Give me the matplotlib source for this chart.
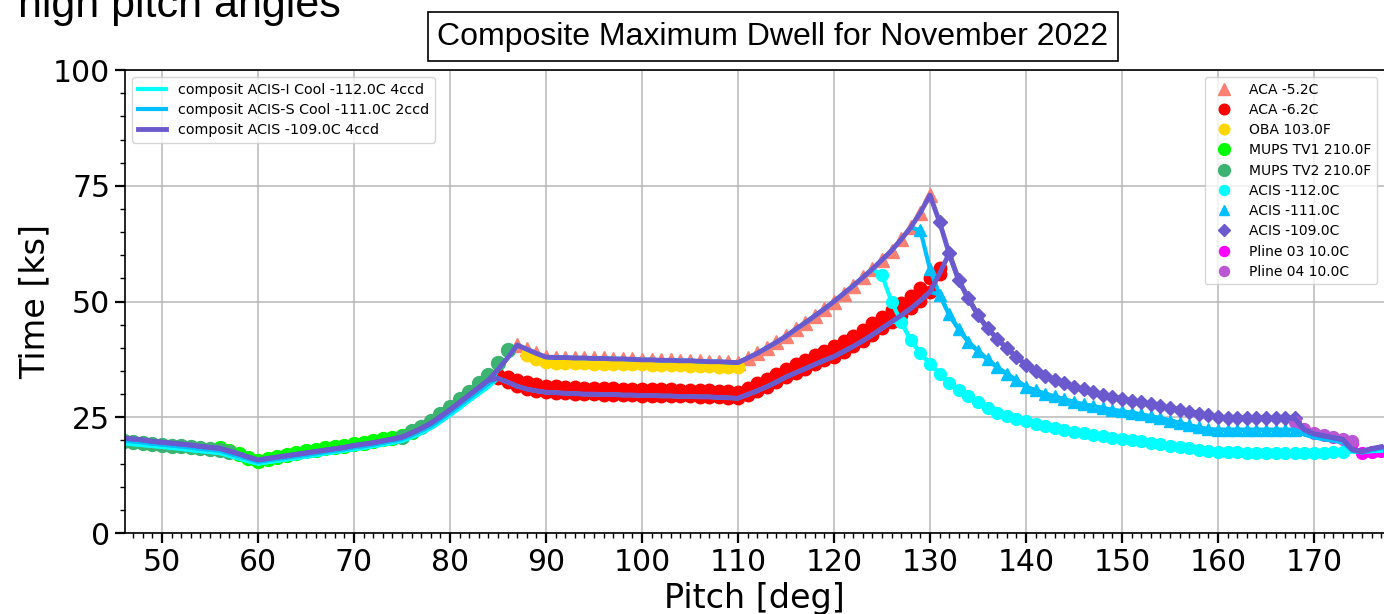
import numpy as np
import matplotlib
matplotlib.use("Agg")
import matplotlib.pyplot as plt
from matplotlib.ticker import MultipleLocator

# ---------------- data ----------------
# composite curves before the ACA split, pitch 46..84
left_109 = [20.5, 20.3, 20.1, 19.8, 19.6, 19.4, 19.2, 19.0, 18.7, 18.5, 18.3,
            17.7, 17.1, 16.4, 15.8,
            16.1, 16.4, 16.7, 17.0, 17.3, 17.6, 17.9, 18.2, 18.5, 18.9,
            19.2, 19.5, 19.9, 20.3, 20.7,
            21.6, 22.6, 23.7, 25.1, 26.6, 28.2, 29.8, 31.4, 33.0]
left_111 = [20.0, 19.8, 19.6, 19.3, 19.1, 18.9, 18.7, 18.5, 18.2, 18.0, 17.8,
            17.2, 16.6, 16.0, 15.4,
            15.7, 16.0, 16.3, 16.6, 16.9, 17.2, 17.5, 17.8, 18.1, 18.5,
            18.8, 19.1, 19.5, 19.9, 20.3,
            21.1, 22.1, 23.1, 24.5, 26.0, 27.6, 29.1, 30.7, 32.3]
left_112 = [19.4, 19.2, 19.0, 18.8, 18.6, 18.4, 18.2, 17.9, 17.7, 17.5, 17.3,
            16.7, 16.1, 15.5, 15.0,
            15.3, 15.6, 15.9, 16.2, 16.5, 16.8, 17.2, 17.5, 17.8, 18.1,
            18.4, 18.8, 19.1, 19.5, 19.9,
            20.7, 21.6, 22.7, 24.0, 25.5, 27.0, 28.6, 30.1, 31.6]

# upper (ACA -5.2C) branch, pitch 85..130
seg_up = [35.3, 37.8, 40.6,
          39.7, 38.8, 38.0, 37.9, 37.9, 37.8, 37.8, 37.7, 37.7, 37.6, 37.6,
          37.5, 37.4, 37.4, 37.3, 37.3, 37.2, 37.2, 37.1, 37.0, 37.0, 36.9, 36.8,
          37.8, 38.8, 40.0, 41.2, 42.5, 44.0, 45.4, 46.9, 48.4, 50.0,
          51.7, 53.4, 55.2, 57.0, 59.0, 61.0, 63.4, 66.0, 69.2, 73.0]
# lower (ACA -6.2C) branch, pitch 85..131
seg_lo = [33.4, 32.6, 31.7, 31.1, 30.7, 30.4,
          30.3, 30.2, 30.1, 30.0, 30.0, 29.9, 29.9, 29.8, 29.8, 29.7,
          29.7, 29.6, 29.6, 29.5, 29.5, 29.4, 29.4, 29.3, 29.2, 29.1,
          29.9, 30.7, 31.6, 32.6, 33.7, 34.6, 35.5, 36.4, 37.3, 38.1,
          39.2, 40.3, 41.5, 42.8, 44.2, 45.6, 47.0, 48.5, 50.2, 52.1, 56.0]
# second row of ACA -6.2C points, pitch 85..131
red_hi = [34.2, 33.7, 33.1, 32.6, 32.1, 31.8,
          31.7, 31.6, 31.5, 31.4, 31.4, 31.3, 31.3, 31.2, 31.2, 31.1,
          31.1, 31.0, 31.0, 30.9, 30.9, 30.8, 30.8, 30.7, 30.6, 30.5,
          31.4, 32.3, 33.3, 34.3, 35.4, 36.4, 37.4, 38.4, 39.4, 40.3,
          41.4, 42.6, 43.9, 45.3, 46.7, 48.2, 49.7, 51.3, 53.0, 55.0, 57.2]
# OBA 103.0F, pitch 88..110
oba = [38.5, 37.6, 36.9, 36.8, 36.8, 36.7, 36.7, 36.6, 36.6, 36.5, 36.5, 36.4,
       36.4, 36.3, 36.3, 36.2, 36.2, 36.1, 36.0, 36.0, 35.9, 35.9, 35.8]
# MUPS TV2, pitch 46..86 (gap 58..74)
nan = np.nan
mups2 = [19.9, 19.7, 19.5, 19.3, 19.1, 18.9, 18.7, 18.5, 18.3, 18.1, 17.9, 17.4] \
    + [nan] * 17 + \
    [20.8, 22.0, 23.0, 24.2, 25.7, 27.3, 28.9, 30.5, 32.3, 34.1, 36.7, 39.6]
# MUPS TV1, pitch 56..76
mups1 = [18.3, 17.8, 17.1, 16.3, 15.5,
         15.9, 16.5, 16.9, 17.3, 17.7, 18.0, 18.3, 18.6, 18.9, 19.2, 19.5,
         19.8, 20.2, 20.6, 21.0, 21.9]
# ACIS -112.0C, pitch 125..177
acis112 = [55.7, 50.0, 45.6, 41.7, 38.8, 36.6, 34.4, 32.5, 30.9, 29.5, 28.2, 27.0,
           26.0, 25.2, 24.6, 24.1,
           23.6, 23.1, 22.6, 22.2, 21.8, 21.5, 21.2, 20.9, 20.6, 20.4, 20.1, 19.8,
           19.5, 19.2, 18.9, 18.6, 18.3, 18.0, 17.8, 17.6,
           17.5, 17.4, 17.3, 17.3, 17.2, 17.2, 17.2, 17.2, 17.2, 17.2, 17.3, 17.4,
           17.5, 17.6, 17.6, 17.7, 17.8]
# ACIS -111.0C, pitch 129..168
acis111 = [65.4, 57.0, 51.5, 47.2, 44.0, 41.3, 39.3, 37.5, 35.8, 34.4, 33.0, 31.6,
           30.8, 30.1, 29.5, 28.9, 28.3, 27.8, 27.4, 27.0, 26.6, 26.3, 26.0, 25.6,
           25.2, 24.8, 24.3, 23.8, 23.3, 22.8, 22.4, 22.3,
           22.3, 22.3, 22.3, 22.3, 22.3, 22.3, 22.3, 22.3]
tail111 = [21.3, 20.7, 20.3, 20.0, 19.6, 17.8, 17.4, 17.9, 18.3]      # 169..177
# ACIS -109.0C, pitch 131..168
acis109 = [67.2, 60.4, 54.6, 50.7, 47.1, 44.2, 42.0, 39.9, 38.1, 36.3,
           35.1, 34.0, 33.1, 32.3, 31.6, 31.0, 30.4, 29.9, 29.4, 29.0,
           28.6, 28.2, 27.8, 27.4, 27.0, 26.6, 26.2, 25.8, 25.4, 25.0,
           24.8, 24.8, 24.8, 24.8, 24.8, 24.8, 24.8, 24.8]
tail109 = [22.3, 21.4, 21.0, 20.6, 20.2, 18.0, 17.6, 18.2, 18.6]      # 169..177
pline03 = [19.4, 17.3, 17.5, 17.8]                                    # 174..177
pline04 = [24.0, 22.4, 21.6, 21.2, 20.8, 20.4, 19.9]                  # 168..174

comp_labels = ["composit ACIS-I Cool -112.0C 4ccd",
               "composit ACIS-S Cool -111.0C 2ccd",
               "composit ACIS -109.0C 4ccd"]
marker_labels = ["ACA -5.2C", "ACA -6.2C", "OBA 103.0F", "MUPS TV1 210.0F",
                 "MUPS TV2 210.0F", "ACIS -112.0C", "ACIS -111.0C",
                 "ACIS -109.0C", "Pline 03 10.0C", "Pline 04 10.0C"]
x_ticks = [50, 60, 70, 80, 90, 100, 110, 120, 130, 140, 150, 160, 170]
y_ticks = [0, 25, 50, 75, 100]


def pts(start, vals):
    return np.arange(start, start + len(vals)), np.asarray(vals, dtype=float)


# composite curves assembled from the pieces above
c109_hi = left_109 + seg_up + acis109 + tail109
c109_lo = left_109 + seg_lo + acis109[1:] + tail109
c111_hi = left_111 + seg_up[:44] + acis111 + tail111
c111_lo = left_111 + seg_lo[:46] + acis111[2:] + tail111
c112_hi = left_112 + seg_up[:40] + acis112
c112_lo = left_112 + seg_lo[:42] + acis112[2:]

# ---------------- figure ----------------
fig = plt.figure(figsize=(13.84, 6.14), dpi=100)
ax = fig.add_axes([0.0903, 0.1319, 1 - 0.0903, 0.754])

ms_kw = dict(ls="none")
hs = []
hs.append(ax.plot(*pts(87, seg_up[2:]), marker="^", color="salmon", ms=10.5, **ms_kw)[0])
ax.plot(*pts(85, red_hi), marker="o", color="red", ms=9, **ms_kw)
hs.append(ax.plot(*pts(85, seg_lo), marker="o", color="red", ms=9, **ms_kw)[0])
hs.append(ax.plot(*pts(88, oba), marker="o", color="gold", ms=9, **ms_kw)[0])
hs.append(ax.plot(*pts(56, mups1), marker="o", color="lime", ms=10, **ms_kw)[0])
hs.append(ax.plot(*pts(46, mups2), marker="o", color="mediumseagreen", ms=10, **ms_kw)[0])
hs.append(ax.plot(*pts(125, acis112[:49]), marker="o", color="cyan", ms=8.5, **ms_kw)[0])
hs.append(ax.plot(*pts(129, acis111), marker="^", color="deepskyblue", ms=8.5, **ms_kw)[0])
hs.append(ax.plot(*pts(131, acis109), marker="D", color="slateblue", ms=7, **ms_kw)[0])
hs.append(ax.plot(*pts(174, pline03), marker="o", color="magenta", ms=8.5, **ms_kw)[0])
hs.append(ax.plot(*pts(168, pline04), marker="o", color="mediumorchid", ms=8.5, **ms_kw)[0])

lh = []
ax.plot(*pts(46, c112_lo), color="cyan", lw=3)
lh.append(ax.plot(*pts(46, c112_hi), color="cyan", lw=3)[0])
ax.plot(*pts(46, c111_lo), color="deepskyblue", lw=3)
lh.append(ax.plot(*pts(46, c111_hi), color="deepskyblue", lw=3)[0])
ax.plot(*pts(46, c109_lo), color="slateblue", lw=3.5)
lh.append(ax.plot(*pts(46, c109_hi), color="slateblue", lw=3.5)[0])

ax.set_xlim(46.15, 177.3)
ax.set_ylim(0, 100)
ax.set_xticks(x_ticks)
ax.set_yticks(y_ticks)
ax.xaxis.set_minor_locator(MultipleLocator(1))
ax.yaxis.set_minor_locator(MultipleLocator(5))
ax.tick_params(which="major", length=7, width=1.6, labelsize=21.5, direction="out")
ax.tick_params(which="minor", length=3.5, width=1.0, direction="out")
ax.grid(True, which="major", color="#b8b8b8", lw=1.1)
ax.set_axisbelow(True)
for s in ["left", "bottom", "top"]:
    ax.spines[s].set_linewidth(1.2)
ax.spines["right"].set_visible(False)
ax.set_xlabel("Pitch [deg]", fontsize=24, labelpad=4)
ax.set_ylabel("Time [ks]", fontsize=24, labelpad=1)

leg1 = ax.legend(lh, comp_labels, loc="upper left", fontsize=10.3,
                 labelspacing=0.42)
ax.add_artist(leg1)
ax.legend(hs, marker_labels, loc="upper right", fontsize=10.0, labelspacing=0.45,
          markerscale=0.85)

fig.text(0.013, 1 - 17 / 614, "high pitch angles", fontsize=31,
         family="Liberation Sans", va="baseline", ha="left")
fig.text(0.5585, 0.94, "Composite Maximum Dwell for November 2022",
         fontsize=23, family="Liberation Sans", ha="center", va="center",
         bbox=dict(boxstyle="square,pad=0.3", fc="white", ec="black", lw=1.2))

fig.savefig("out.png", dpi=100)
